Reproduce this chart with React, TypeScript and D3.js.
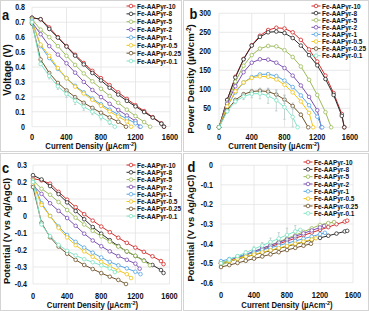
import { useEffect, useRef } from "react";
import * as d3 from "d3";

const names = ["Fe-AAPyr-10", "Fe-AAPyr-8", "Fe-AAPyr-5", "Fe-AAPyr-2", "Fe-AAPyr-1", "Fe-AAPyr-0.5", "Fe-AAPyr-0.25", "Fe-AAPyr-0.1"];
const colors = ["#d42a2a", "#2a2a2a", "#9bbb59", "#7b4fb2", "#55a6e6", "#f0c419", "#6e5228", "#7fe3c4"];

// current density (µA/cm2) for each catalyst loading
const current = [
  [0, 100, 200, 300, 400, 500, 600, 700, 800, 900, 1000, 1100, 1200, 1300, 1400, 1500, 1530],
  [0, 100, 200, 300, 400, 500, 600, 700, 800, 900, 1000, 1100, 1200, 1300, 1400, 1500, 1530],
  [0, 100, 200, 300, 400, 500, 600, 700, 800, 900, 1000, 1100, 1200, 1300, 1370],
  [0, 100, 200, 300, 400, 500, 600, 700, 800, 900, 1000, 1100, 1200, 1250],
  [0, 100, 200, 300, 400, 500, 600, 700, 800, 900, 1000, 1100, 1200, 1260],
  [0, 100, 200, 300, 400, 500, 600, 700, 800, 900, 1000, 1100, 1150],
  [0, 100, 200, 300, 400, 500, 600, 700, 800, 900, 1000, 1090],
  [0, 100, 200, 300, 400, 500, 600, 700, 800, 900, 960],
];

// a: cell voltage (V)
const voltage = [
  [0.73, 0.72, 0.665, 0.6, 0.54, 0.482, 0.427, 0.374, 0.325, 0.278, 0.23, 0.186, 0.144, 0.105, 0.064, 0.023, 0],
  [0.73, 0.72, 0.655, 0.597, 0.537, 0.476, 0.417, 0.36, 0.31, 0.261, 0.215, 0.173, 0.136, 0.098, 0.061, 0.02, 0],
  [0.72, 0.65, 0.6, 0.54, 0.475, 0.414, 0.357, 0.304, 0.254, 0.206, 0.16, 0.114, 0.071, 0.031, 0],
  [0.7, 0.62, 0.54, 0.483, 0.425, 0.362, 0.3, 0.246, 0.198, 0.153, 0.112, 0.075, 0.0375, 0],
  [0.71, 0.54, 0.46, 0.387, 0.325, 0.274, 0.23, 0.189, 0.15, 0.114, 0.082, 0.053, 0.023, 0],
  [0.7, 0.55, 0.475, 0.393, 0.325, 0.268, 0.222, 0.18, 0.14, 0.102, 0.068, 0.035, 0],
  [0.69, 0.45, 0.36, 0.293, 0.243, 0.198, 0.16, 0.126, 0.093, 0.062, 0.033, 0],
  [0.7, 0.42, 0.34, 0.27, 0.22, 0.174, 0.135, 0.1, 0.066, 0.03, 0],
];

// b: power density (µW/cm2)
const power = [
  [0, 72, 133, 180, 216, 241, 256, 262, 260, 250, 230, 205, 173, 136, 90, 35, 0],
  [0, 72, 131, 179, 215, 238, 250, 252, 248, 235, 215, 190, 163, 127, 85, 30, 0],
  [0, 65, 120, 162, 190, 207, 214, 213, 203, 185, 160, 125, 85, 40, 0],
  [0, 62, 108, 145, 170, 179, 178, 170, 156, 136, 110, 80, 45, 0],
  [0, 54, 92, 118, 132, 139, 140, 135, 123, 106, 84, 58, 28, 0],
  [0, 55, 95, 118, 130, 134, 133, 126, 112, 92, 68, 38, 0],
  [0, 45, 72, 87, 94, 96, 94, 86, 73, 56, 33, 0],
  [0, 42, 68, 81, 88, 89, 83, 71, 53, 27, 0],
];

// c: cathode potential (V vs Ag/AgCl)
const cathode = [
  [0.22, 0.21, 0.19, 0.142, 0.096, 0.052, 0.011, -0.027, -0.062, -0.095, -0.128, -0.158, -0.186, -0.211, -0.237, -0.265, -0.283],
  [0.24, 0.215, 0.176, 0.129, 0.08, 0.029, -0.019, -0.065, -0.104, -0.142, -0.177, -0.209, -0.235, -0.262, -0.288, -0.318, -0.335],
  [0.21, 0.16, 0.125, 0.082, 0.035, -0.01, -0.05, -0.087, -0.12, -0.151, -0.18, -0.208, -0.234, -0.264, -0.29],
  [0.18, 0.13, 0.075, 0.03, -0.012, -0.058, -0.104, -0.144, -0.178, -0.208, -0.236, -0.258, -0.28, -0.31],
  [0.2, 0.075, 0.0, -0.062, -0.112, -0.152, -0.186, -0.216, -0.244, -0.27, -0.29, -0.308, -0.328, -0.342],
  [0.19, 0.065, 0.0, -0.07, -0.126, -0.172, -0.208, -0.24, -0.27, -0.296, -0.32, -0.342, -0.365],
  [0.17, -0.04, -0.125, -0.18, -0.222, -0.258, -0.288, -0.312, -0.336, -0.357, -0.376, -0.4],
  [0.2, -0.05, -0.118, -0.17, -0.205, -0.232, -0.254, -0.272, -0.29, -0.308, -0.33],
];

// d: anode potential (V vs Ag/AgCl)
const anode = [
  [-0.5, -0.487, -0.473, -0.458, -0.444, -0.43, -0.416, -0.401, -0.387, -0.373, -0.358, -0.344, -0.33, -0.316, -0.301, -0.288, -0.283],
  [-0.5, -0.49, -0.479, -0.468, -0.457, -0.447, -0.436, -0.425, -0.414, -0.403, -0.392, -0.382, -0.371, -0.36, -0.349, -0.338, -0.335],
  [-0.51, -0.493, -0.476, -0.459, -0.442, -0.425, -0.408, -0.391, -0.374, -0.357, -0.34, -0.322, -0.305, -0.295, -0.29],
  [-0.5, -0.485, -0.47, -0.455, -0.44, -0.424, -0.409, -0.394, -0.379, -0.363, -0.348, -0.333, -0.318, -0.31],
  [-0.49, -0.479, -0.467, -0.456, -0.444, -0.433, -0.421, -0.41, -0.398, -0.387, -0.375, -0.364, -0.352, -0.345],
  [-0.5, -0.489, -0.478, -0.467, -0.456, -0.445, -0.434, -0.423, -0.412, -0.401, -0.39, -0.379, -0.373],
  [-0.52, -0.51, -0.499, -0.488, -0.477, -0.466, -0.455, -0.444, -0.433, -0.422, -0.411, -0.401],
  [-0.5, -0.482, -0.464, -0.446, -0.428, -0.41, -0.392, -0.374, -0.356, -0.338, -0.33],
];

// error bars (mostly on the Fe-AAPyr-0.1 series)
const voltErr01 = [0, 0.01, 0.02, 0.02, 0.025, 0.025, 0.025, 0.02, 0.02, 0.015, 0];
const powerErr01 = [0, 4, 6, 8, 10, 14, 20, 28, 32, 26, 0];
const powerErr025 = [0, 3, 4, 5, 6, 6, 8, 10, 10, 8, 5, 0];
const anodeErr01 = [0, 0.005, 0.008, 0.01, 0.012, 0.015, 0.02, 0.03, 0.035, 0.03, 0];

const xTicks = [0, 400, 800, 1200, 1600];
const voltTicks = [0, 0.1, 0.2, 0.3, 0.4, 0.5, 0.6, 0.7, 0.8];
const powerTicks = [0, 50, 100, 150, 200, 250, 300];
const cathodeTicks = [0.3, 0.2, 0.1, 0, -0.1, -0.2, -0.3, -0.4];
const anodeTicks = [0, -0.1, -0.2, -0.3, -0.4, -0.5, -0.6];

const SQ = 0.86;
const FONT = "Liberation Sans, Arial, sans-serif";

type Panel = {
  box: [number, number, number, number];
  xr: [number, number];
  yr: [number, number];
  yd: [number, number];
  yTicks: number[];
  values: number[][];
  errs: (number[] | null)[];
  letter: [string, number, number];
  yLabelX: number;
  xLabelY: number;
  xTitle: [number, number];
  yTitle: [string, string, number, number, number];
  legend: [number, number, number];
};

function App() {
  const svgRef = useRef<SVGSVGElement>(null);

  useEffect(() => {
    if (!svgRef.current) return;
    const svg = d3.select(svgRef.current);
    svg.selectAll("*").remove();

    const panels: Panel[] = [
      {
        box: [0.5, 0.5, 181, 151], xr: [32, 170], yr: [126.7, 7.3], yd: [0, 0.8], yTicks: voltTicks,
        values: voltage, errs: [null, null, null, null, null, null, null, voltErr01],
        letter: ["a", 2, 19.5], yLabelX: 25, xLabelY: 139.5, xTitle: [91, 149],
        yTitle: ["Voltage (V)", "", 10.5, 70, 10], legend: [131, 6, 7.86],
      },
      {
        box: [183.5, 0.5, 185, 151], xr: [219, 350], yr: [127.3, 13.3], yd: [0, 300], yTicks: powerTicks,
        values: power, errs: [null, null, null, null, null, null, powerErr025, powerErr01],
        letter: ["b", 189.5, 19], yLabelX: 211, xLabelY: 139.5, xTitle: [274, 149],
        yTitle: ["Power Density (µWcm", "-2", 194.3, 79, 9.6], legend: [316, 6, 7.1],
      },
      {
        box: [0.5, 153.5, 181, 157], xr: [33, 169.5], yr: [284, 165], yd: [-0.4, 0.3], yTicks: cathodeTicks,
        values: cathode, errs: [null, null, null, null, null, null, null, null],
        letter: ["c", 2, 173], yLabelX: 27, xLabelY: 298.5, xTitle: [92.5, 307.5],
        yTitle: ["Potential (V vs Ag/AgCl)", "", 10.3, 231, 9.3], legend: [131, 165, 7.3],
      },
      {
        box: [183.5, 153.5, 185, 157], xr: [221, 353], yr: [282.7, 165.3], yd: [-0.6, 0], yTicks: anodeTicks,
        values: anode, errs: [null, null, null, null, null, null, null, anodeErr01],
        letter: ["d", 187.5, 171.5], yLabelX: 213, xLabelY: 298, xTitle: [287, 307.5],
        yTitle: ["Potential (V vs Ag/AgCl)", "", 194.3, 228, 9.4], legend: [308, 162, 7.33],
      },
    ];

    const text = (
      parent: d3.Selection<SVGGElement, unknown, null, undefined>,
      x: number, y: number, str: string, size: number, anchor: string, squash = SQ
    ) =>
      parent.append("text")
        .attr("transform", `translate(${x},${y}) scale(${squash},1)`)
        .attr("text-anchor", anchor)
        .attr("font-family", FONT)
        .attr("font-weight", "bold")
        .attr("font-size", size)
        .attr("fill", "#111")
        .text(str);

    panels.forEach((p) => {
      const g = svg.append("g");

      // chart border
      g.append("rect")
        .attr("x", p.box[0]).attr("y", p.box[1]).attr("width", p.box[2]).attr("height", p.box[3])
        .attr("fill", "white").attr("stroke", "#d4d4d4").attr("stroke-width", 1);

      const x = d3.scaleLinear().domain([0, 1600]).range(p.xr);
      const y = d3.scaleLinear().domain(p.yd).range(p.yr);

      // gridlines
      g.selectAll(".vg").data(xTicks).join("line")
        .attr("x1", (d) => x(d)).attr("x2", (d) => x(d))
        .attr("y1", p.yr[0]).attr("y2", p.yr[1])
        .attr("stroke", "#e3e3e3").attr("stroke-width", 0.8);
      g.selectAll(".hg").data(p.yTicks).join("line")
        .attr("x1", p.xr[0]).attr("x2", p.xr[1])
        .attr("y1", (d) => y(d)).attr("y2", (d) => y(d))
        .attr("stroke", "#e3e3e3").attr("stroke-width", 0.8);

      // tick labels
      p.yTicks.forEach((t) => text(g, p.yLabelX, y(t) + 3, String(+t.toFixed(2)), 8.6, "end", 0.82));
      xTicks.forEach((t) => text(g, x(t), p.xLabelY, String(t), 8.6, "middle"));

      // axis titles
      const xt = text(g, p.xTitle[0], p.xTitle[1], "Current Density (µAcm", 8.6, "middle", 0.9);
      xt.append("tspan").attr("dy", -3).attr("font-size", 6).text("-2");
      xt.append("tspan").attr("dy", 3).text(")");

      const yt = g.append("text")
        .attr("transform", `translate(${p.yTitle[2]},${p.yTitle[3]}) rotate(-90)`)
        .attr("text-anchor", "middle")
        .attr("font-family", FONT).attr("font-weight", "bold").attr("font-size", p.yTitle[4])
        .attr("fill", "#111")
        .text(p.yTitle[0]);
      if (p.yTitle[1]) {
        yt.append("tspan").attr("dy", -3.5).attr("font-size", 6.5).text(p.yTitle[1]);
        yt.append("tspan").attr("dy", 3.5).text(")");
      }

      // panel letter
      text(g, p.letter[1], p.letter[2], p.letter[0], 15, "start");

      // series
      p.values.forEach((vals, s) => {
        const cur = current[s];
        const err = p.errs[s];
        if (err) {
          g.selectAll(null).data(vals).join("g").each(function (d, i) {
            const e = err[i] || 0;
            if (!e) return;
            const eg = d3.select(this);
            const cx = x(cur[i]);
            eg.append("line").attr("x1", cx).attr("x2", cx).attr("y1", y(d - e)).attr("y2", y(d + e))
              .attr("stroke", "#b4c4c4").attr("stroke-width", 0.7);
            [d - e, d + e].forEach((v) =>
              eg.append("line").attr("x1", cx - 1.2).attr("x2", cx + 1.2).attr("y1", y(v)).attr("y2", y(v))
                .attr("stroke", "#b4c4c4").attr("stroke-width", 0.7));
          });
        }
        const ln = d3.line<number>().x((_, i) => x(cur[i])).y((d) => y(d));
        g.append("path").datum(vals).attr("d", ln)
          .attr("fill", "none").attr("stroke", colors[s]).attr("stroke-width", 1);
        g.selectAll(null).data(vals).join("circle")
          .attr("cx", (_, i) => x(cur[i])).attr("cy", (d) => y(d)).attr("r", 1.8)
          .attr("fill", "white").attr("stroke", colors[s]).attr("stroke-width", 0.8);
      });

      // legend
      names.forEach((n, i) => {
        const ly = p.legend[1] + i * p.legend[2];
        const lx = p.legend[0];
        g.append("line").attr("x1", lx - 4.5).attr("x2", lx + 4.5).attr("y1", ly).attr("y2", ly)
          .attr("stroke", colors[i]).attr("stroke-width", 1);
        g.append("circle").attr("cx", lx).attr("cy", ly).attr("r", 1.8)
          .attr("fill", "white").attr("stroke", colors[i]).attr("stroke-width", 0.8);
        text(g, lx + 6, ly + 2.6, n, 7.5, "start");
      });
    });
  }, []);

  return <svg ref={svgRef} width={369} height={311} style={{ position: "absolute", left: 0, top: 0 }}></svg>;
}

export default App;
